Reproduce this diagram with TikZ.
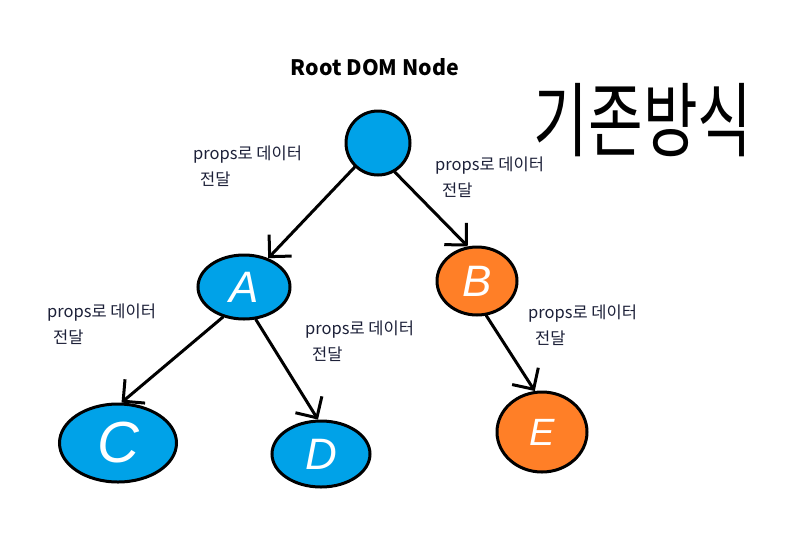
\documentclass[tikz,border=0pt]{standalone}
\usepackage{fontspec}
\setmainfont{Liberation Sans}
\newfontfamily\krfont{Noto Sans CJK KR}
\usetikzlibrary{shapes.geometric,arrows.meta}
\definecolor{paintblue}{RGB}{0,162,232}
\definecolor{paintorange}{RGB}{255,127,39}
\definecolor{labelink}{RGB}{28,32,56}
\tikzset{
  blob/.style={ellipse, draw=black, line width=3pt, inner sep=0pt, text=white,
    font=\fontsize{44}{44}\selectfont\itshape},
  bluenode/.style={blob, fill=paintblue},
  orangenode/.style={blob, fill=paintorange},
  flow/.style={line width=3pt, line cap=round, -{Straight Barb[angle=90:22pt, line width=3pt]}},
  lbl/.style={anchor=base west, inner sep=0pt, text=labelink, font=\krfont\fontsize{16.5}{16.5}\selectfont}
}
\begin{document}
\begin{tikzpicture}[x=1pt,y=-1pt]
\useasboundingbox (0,0) rectangle (798,550);
% title
\node[anchor=base, inner sep=0pt, font=\krfont\bfseries\fontsize{21.3}{21.3}\selectfont] (title) at (375,75) {Root DOM Node};
% handwritten heading
\node[anchor=center, inner sep=0pt, font=\krfont\fontsize{56}{56}\selectfont] (heading) at (643,120) {\scalebox{1.06}[1.45]{기존방식}};
% nodes
\node[bluenode, minimum width=64pt, minimum height=64pt] (root) at (378,143) {};
\node[bluenode, minimum width=92pt, minimum height=64pt] (A) at (244,287) {A};
\node[orangenode, minimum width=80pt, minimum height=68pt] (B) at (477,281) {B};
\node[bluenode, minimum width=117pt, minimum height=78pt, font=\fontsize{58}{58}\selectfont\itshape] (C) at (118,443) {C};
\node[bluenode, minimum width=98pt, minimum height=66pt] (D) at (321,454) {D};
\node[orangenode, minimum width=90pt, minimum height=80pt, font=\fontsize{38}{38}\selectfont\itshape] (E) at (542,432) {E};
% connectors
\draw[flow] (root.226) -- (A.50);
\draw[flow] (root.300) -- (B.105);
\draw[flow] (A.290) -- (D.95);
\draw[flow] (A.235) -- (C.85);
\draw[flow] (B.285) -- (E.100);
% labels
\node[lbl] (l1a) at (193,159) {props로 데이터};
\node[lbl] (l1b) at (200,185) {전달};
\node[lbl] (l2a) at (435,170) {props로 데이터};
\node[lbl] (l2b) at (442,196) {전달};
\node[lbl] (l3a) at (47,317) {props로 데이터};
\node[lbl] (l3b) at (53,343) {전달};
\node[lbl] (l4a) at (305,334) {props로 데이터};
\node[lbl] (l4b) at (312,360) {전달};
\node[lbl] (l5a) at (528,318) {props로 데이터};
\node[lbl] (l5b) at (535,344) {전달};
\end{tikzpicture}
\end{document}
